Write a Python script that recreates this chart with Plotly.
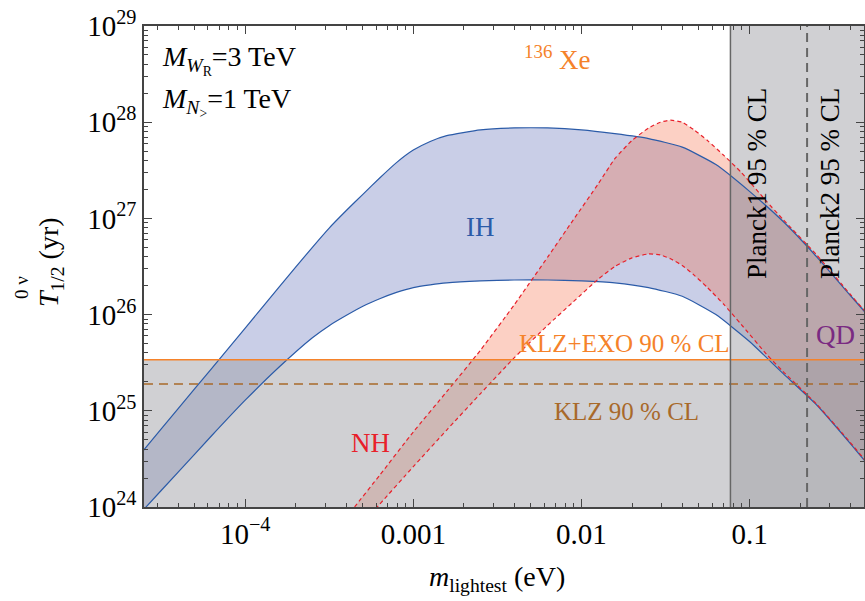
import plotly.graph_objects as go

# ---------------- data ----------------
X_MIN, X_MAX = 2.5e-5, 0.48          # eV
Y_MIN, Y_MAX = 1e24, 1e29            # yr

KLZ_EXO = 3.4e25                     # KLZ+EXO 90% CL
KLZ = 1.9e25                         # KLZ 90% CL
PLANCK1 = 0.077                      # eV
PLANCK2 = 0.22                       # eV

IH_M = [2.24e-5, 2.51e-5, 3.98e-5, 6.31e-5, 1.0e-4, 1.58e-4, 2.51e-4, 3.16e-4, 3.98e-4,
        5.01e-4, 6.31e-4, 7.94e-4, 1.0e-3, 1.26e-3, 1.58e-3, 2.51e-3, 3.98e-3, 6.31e-3,
        0.01, 0.0158, 0.0251, 0.0398, 0.0631, 0.1, 0.158, 0.251, 0.398, 0.501]
IH_UP = [3.16e24, 3.98e24, 1.05e25, 2.75e25, 7.24e25, 1.91e26, 5.01e26, 7.94e26, 1.20e27,
         1.78e27, 2.63e27, 3.80e27, 5.13e27, 6.31e27, 7.24e27, 8.32e27, 8.71e27, 8.71e27,
         8.32e27, 7.59e27, 6.76e27, 5.50e27, 3.63e27, 1.91e27, 9.33e26, 3.98e26, 1.58e26, 1.00e26]
IH_LO = [7.59e23, 9.55e23, 2.29e24, 5.50e24, 1.29e25, 2.82e25, 5.75e25, 7.68e25, 9.77e25,
         1.22e26, 1.46e26, 1.70e26, 1.91e26, 2.04e26, 2.14e26, 2.24e26, 2.29e26, 2.29e26,
         2.24e26, 2.14e26, 1.91e26, 1.55e26, 1.00e26, 5.25e25, 2.45e25, 1.15e25, 4.57e24, 2.82e24]

NH_M = [3.55e-4, 4.47e-4, 6.31e-4, 1.0e-3, 1.58e-3, 2.51e-3, 3.98e-3, 6.31e-3, 8.91e-3,
        0.0126, 0.0158, 0.0200, 0.0251, 0.0295, 0.0339, 0.0398, 0.0468, 0.0562, 0.0708,
        0.0891, 0.126, 0.158, 0.251, 0.398, 0.501]
NH_UP = [5.89e23, 1.00e24, 2.14e24, 6.03e24, 1.58e25, 4.27e25, 1.26e26, 3.98e26, 9.55e26,
         2.29e27, 4.17e27, 6.46e27, 8.71e27, 1.00e28, 1.05e28, 1.00e28, 8.32e27, 6.46e27,
         4.47e27, 3.02e27, 1.51e27, 9.77e26, 4.17e26, 1.62e26, 1.02e26]
NH_LO = [3.55e23, 5.50e23, 1.07e24, 2.63e24, 6.31e24, 1.51e25, 3.55e25, 7.76e25, 1.35e26,
         2.34e26, 3.16e26, 3.89e26, 4.27e26, 4.17e26, 3.80e26, 3.24e26, 2.57e26, 1.91e26,
         1.26e26, 7.94e25, 3.89e25, 2.57e25, 1.17e25, 4.68e24, 2.88e24]

X_TICKS = [1e-4, 1e-3, 1e-2, 1e-1]
X_TICKTEXT = ["10<sup>\u22124</sup>", "0.001", "0.01", "0.1"]
Y_TICKS = [1e24, 1e25, 1e26, 1e27, 1e28, 1e29]
Y_TICKTEXT = ["10<sup>24</sup>", "10<sup>25</sup>", "10<sup>26</sup>",
              "10<sup>27</sup>", "10<sup>28</sup>", "10<sup>29</sup>"]

# ---------------- styles ----------------
FONT = "Liberation Serif"
BLUE = "#2b5ba8"
RED = "#e8202a"
ORANGE = "#f5822a"
BROWN = "#a8692a"
PURPLE = "#7a2a82"
IH_FILL = "rgba(60,80,170,0.28)"
NH_FILL = "rgba(245,100,60,0.30)"
GRAY_FILL = "rgba(159,160,165,0.49)"
AXC = "#444444"

fig = go.Figure()

# bands
fig.add_trace(go.Scatter(x=IH_M + IH_M[::-1], y=IH_UP + IH_LO[::-1], fill="toself",
                         fillcolor=IH_FILL, mode="lines", line=dict(width=0, shape="spline", smoothing=0.5),
                         hoverinfo="skip"))
fig.add_trace(go.Scatter(x=NH_M + NH_M[::-1], y=NH_UP + NH_LO[::-1], fill="toself",
                         fillcolor=NH_FILL, mode="lines", line=dict(width=0, shape="spline", smoothing=0.5),
                         hoverinfo="skip"))

# excluded regions (gray)
fig.add_trace(go.Scatter(x=[X_MIN, X_MAX, X_MAX, X_MIN], y=[Y_MIN, Y_MIN, KLZ_EXO, KLZ_EXO],
                         fill="toself", fillcolor=GRAY_FILL, mode="lines", line=dict(width=0),
                         hoverinfo="skip"))
fig.add_trace(go.Scatter(x=[PLANCK1, X_MAX, X_MAX, PLANCK1], y=[Y_MIN, Y_MIN, Y_MAX, Y_MAX],
                         fill="toself", fillcolor=GRAY_FILL, mode="lines", line=dict(width=0),
                         hoverinfo="skip"))

# band outlines
for yy in (IH_UP, IH_LO):
    fig.add_trace(go.Scatter(x=IH_M, y=yy, mode="lines",
                             line=dict(color=BLUE, width=1.2, shape="spline", smoothing=0.5)))
for yy in (NH_UP, NH_LO):
    fig.add_trace(go.Scatter(x=NH_M, y=yy, mode="lines",
                             line=dict(color=RED, width=1.2, dash="4px,3px", shape="spline", smoothing=0.5)))

# limit lines
fig.add_trace(go.Scatter(x=[X_MIN, X_MAX], y=[KLZ_EXO, KLZ_EXO], mode="lines",
                         line=dict(color=ORANGE, width=1.5)))
fig.add_trace(go.Scatter(x=[X_MIN, X_MAX], y=[KLZ, KLZ], mode="lines",
                         line=dict(color=BROWN, width=1.5, dash="9px,6px")))
fig.add_trace(go.Scatter(x=[PLANCK1, PLANCK1], y=[Y_MIN, Y_MAX], mode="lines",
                         line=dict(color="#666666", width=1.5)))
fig.add_trace(go.Scatter(x=[PLANCK2, PLANCK2], y=[Y_MIN, Y_MAX], mode="lines",
                         line=dict(color="#666666", width=2, dash="9px,6px")))

minor_x = [k * 10.0 ** e for e in range(-5, 0) for k in range(2, 10)]
minor_y = [k * 10.0 ** e for e in range(24, 29) for k in range(2, 10)]

axis_common = dict(showgrid=False, zeroline=False, showline=True, linecolor=AXC, linewidth=1.5,
                   mirror="ticks", ticks="inside", ticklen=8, tickwidth=1.2, tickcolor=AXC,
                   automargin=False,
                   tickfont=dict(family=FONT, size=29, color="black"))

fig.update_xaxes(type="log", range=[-4.602, -0.319], tickmode="array", tickvals=X_TICKS,
                 ticktext=X_TICKTEXT,
                 minor=dict(tickmode="array", tickvals=minor_x, ticks="inside", ticklen=4,
                            tickwidth=1, tickcolor=AXC, showgrid=False),
                 **axis_common)
fig.update_yaxes(type="log", range=[24, 29], tickmode="array", tickvals=Y_TICKS,
                 ticktext=Y_TICKTEXT,
                 minor=dict(tickmode="array", tickvals=minor_y, ticks="inside", ticklen=4,
                            tickwidth=1, tickcolor=AXC, showgrid=False),
                 **axis_common)

def px2paper(px, py):
    return (px - 144) / 720.0, (507 - py) / 481.0

def ann(text, px, py, color="black", size=25, angle=0, xanchor="center"):
    x, y = px2paper(px, py)
    fig.add_annotation(text=text, x=x, y=y, xref="paper", yref="paper", showarrow=False,
                       xanchor=xanchor, yanchor="middle", textangle=angle,
                       font=dict(family=FONT, size=size, color=color))

ann("<i>M</i><sub><i>W</i><sub>R</sub></sub>=3 TeV", 160, 60, size=28, xanchor="left")
ann("<i>M</i><sub><i>N</i><sub>&gt;</sub></sub>=1 TeV", 160, 102, size=28, xanchor="left")
ann("<sup>136</sup> Xe", 557, 58, color=ORANGE, size=27)
ann("IH", 480, 227, color=BLUE, size=27)
ann("NH", 370, 443, color=RED, size=27)
ann("KLZ+EXO 90 % CL", 624, 344, color=ORANGE, size=25)
ann("KLZ 90 % CL", 626, 411, color=BROWN, size=25)
ann("QD", 835, 335, color=PURPLE, size=27)
ann("Planck1 95 % CL", 757, 184, size=27, angle=-90)
ann("Planck2 95 % CL", 830, 184, size=27, angle=-90)

# axis titles
ann("<i>m</i><sub>lightest</sub> (eV)", 497, 578, size=28)
ann("<i>T</i><sub>1/2</sub> (yr)", 50, 262, size=28, angle=-90)
ann("0 \u03bd", 22, 288, size=19, angle=-90)

fig.update_layout(width=865, height=601, margin=dict(l=144, r=1, t=26, b=94, autoexpand=False),
                  paper_bgcolor="white", plot_bgcolor="white", showlegend=False)

fig.write_html("out.html", config={"displayModeBar": False},
               post_script="document.body.style.margin='0px';document.body.style.overflow='hidden';")
